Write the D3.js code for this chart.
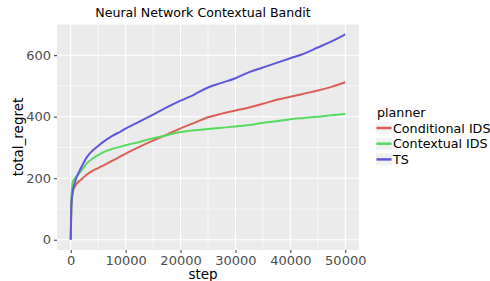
<!DOCTYPE html>
<html>
<head>
<meta charset="utf-8">
<script src="https://cdn.jsdelivr.net/npm/d3@7"></script>
<style>
  body { margin: 0; background: #fff; }
  text { font-family: "DejaVu Sans", sans-serif; }
</style>
</head>
<body>
<div id="chart"></div>
<script>
// data
const steps = [0, 100, 200, 400, 700, 1000, 1500, 2000, 3000, 4000, 5000, 6000, 7500, 9000, 10000,
  12500, 15000, 17500, 20000, 22500, 25000, 27500, 30000, 32500, 35000, 37500, 40000, 42500, 45000, 47500, 50000];
const conditionalIDS = [0, 90, 125, 158, 172, 180, 190, 197, 213, 224, 233, 242, 256, 270, 280,
  302, 322, 342, 362, 380, 398, 410, 420, 430, 442, 455, 465, 475, 485, 497, 512];
const contextualIDS = [0, 120, 160, 190, 198, 205, 215, 226, 250, 264, 275, 285, 295, 302, 307,
  318, 330, 340, 350, 356, 360, 364, 368, 373, 380, 385, 392, 396, 400, 405, 409];
const ts = [0, 110, 135, 160, 183, 200, 220, 238, 270, 290, 305, 319, 337, 351, 361,
  384, 407, 430, 452, 472, 495, 510, 525, 545, 560, 575, 590, 605, 625, 645, 668];

const planners = ["Conditional IDS", "Contextual IDS", "TS"];
const colors = ["#db5f57", "#57db5e", "#5f57db"];
const xTicks = [0, 10000, 20000, 30000, 40000, 50000];
const yTicks = [0, 200, 400, 600];

const width = 490, height = 281;
const panel = {left: 57, top: 24, right: 359, bottom: 250};

const svg = d3.select("#chart").append("svg")
  .attr("width", width)
  .attr("height", height);

const x = d3.scaleLinear().domain([-2500, 52500]).range([panel.left, panel.right]);
const y = d3.scaleLinear().domain([-33.4, 701.4]).range([panel.bottom, panel.top]);

// panel background
svg.append("rect")
  .attr("x", panel.left).attr("y", panel.top)
  .attr("width", panel.right - panel.left)
  .attr("height", panel.bottom - panel.top)
  .attr("fill", "#ebebeb");

// grid lines (minor first, then major)
const grid = svg.append("g");
[5000, 15000, 25000, 35000, 45000].forEach(v => {
  grid.append("line").attr("x1", x(v)).attr("x2", x(v))
    .attr("y1", panel.top).attr("y2", panel.bottom)
    .attr("stroke", "#fff").attr("stroke-width", 0.6);
});
[100, 300, 500, 700].forEach(v => {
  grid.append("line").attr("y1", y(v)).attr("y2", y(v))
    .attr("x1", panel.left).attr("x2", panel.right)
    .attr("stroke", "#fff").attr("stroke-width", 0.6);
});
xTicks.forEach(v => {
  grid.append("line").attr("x1", x(v)).attr("x2", x(v))
    .attr("y1", panel.top).attr("y2", panel.bottom)
    .attr("stroke", "#fff").attr("stroke-width", 1.1);
});
yTicks.forEach(v => {
  grid.append("line").attr("y1", y(v)).attr("y2", y(v))
    .attr("x1", panel.left).attr("x2", panel.right)
    .attr("stroke", "#fff").attr("stroke-width", 1.1);
});

// axes
const xAxis = d3.axisBottom(x).tickValues(xTicks).tickSize(3).tickPadding(3).tickFormat(d3.format("d"));
const yAxis = d3.axisLeft(y).tickValues(yTicks).tickSize(3).tickPadding(3);

const gx = svg.append("g").attr("transform", "translate(0," + panel.bottom + ")").call(xAxis);
const gy = svg.append("g").attr("transform", "translate(" + panel.left + ",0)").call(yAxis);
[gx, gy].forEach(g => {
  g.select(".domain").remove();
  g.selectAll("line").attr("stroke", "#333");
  g.selectAll("text").attr("fill", "#4d4d4d").style("font-size", "13px")
    .style("font-family", "DejaVu Sans, sans-serif");
});

// series lines
const series = [conditionalIDS, contextualIDS, ts];
const line = d3.line()
  .x((d, i) => x(steps[i]))
  .y(d => y(d))
  .curve(d3.curveMonotoneX);

series.forEach((vals, i) => {
  svg.append("path")
    .datum(vals)
    .attr("d", line)
    .attr("fill", "none")
    .attr("stroke", colors[i])
    .attr("stroke-width", 2);
});

// title and axis labels
svg.append("text")
  .attr("x", 203).attr("y", 17)
  .attr("text-anchor", "middle")
  .style("font-size", "12.6px")
  .text("Neural Network Contextual Bandit");

svg.append("text")
  .attr("x", 203).attr("y", 279)
  .attr("text-anchor", "middle")
  .style("font-size", "13.5px")
  .text("step");

svg.append("text")
  .attr("transform", "translate(23," + ((panel.top + panel.bottom) / 2) + ") rotate(-90)")
  .attr("text-anchor", "middle")
  .style("font-size", "13.5px")
  .text("total_regret");

// legend
const legend = svg.append("g").attr("transform", "translate(376,0)");
legend.append("text")
  .attr("x", 1).attr("y", 117)
  .style("font-size", "12.7px")
  .text("planner");

planners.forEach((p, i) => {
  const cy = 128 + i * 15.7;
  legend.append("rect")
    .attr("x", 0).attr("y", cy - 6)
    .attr("width", 16).attr("height", 12)
    .attr("fill", "#f2f2f2");
  legend.append("line")
    .attr("x1", 0.5).attr("x2", 15.5)
    .attr("y1", cy).attr("y2", cy)
    .attr("stroke", colors[i]).attr("stroke-width", 2.5);
  legend.append("text")
    .attr("x", 17).attr("y", cy + 4.5)
    .style("font-size", "12.7px")
    .text(p);
});
</script>
</body>
</html>
